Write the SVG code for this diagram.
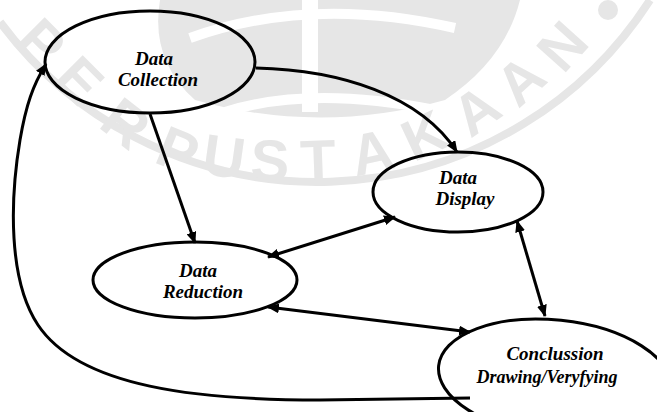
<svg xmlns="http://www.w3.org/2000/svg" width="657" height="412" viewBox="0 0 657 412">
<style>
.node{fill:none;stroke:#000;stroke-width:3}
.lbl{font-family:"Liberation Serif","Times New Roman",serif;font-style:italic;font-weight:bold;font-size:19px;fill:#000;text-anchor:middle}
.edge{fill:none;stroke:#000;stroke-width:3}
.wm{font-family:"Liberation Sans",Arial,sans-serif;font-weight:bold;font-size:58px;fill:#e6e6e6;text-anchor:middle;dominant-baseline:central}
</style>
<defs>
<marker id="ah" viewBox="0 0 12 10" refX="11" refY="5" markerWidth="12" markerHeight="10" markerUnits="userSpaceOnUse" orient="auto-start-reverse">
<path d="M0,0 L12,5 L0,10 Z" fill="#000"/>
</marker>
</defs>
<rect width="657" height="412" fill="#fff"/>
<g id="watermark">
<path d="M160,0 L520,0 Q505,60 445,100 Q320,135 195,100 Q150,60 160,0 Z" fill="#e6e6e6"/>
<path d="M190,38 Q310,-5 455,28" fill="none" stroke="#fff" stroke-width="10"/>
<path d="M225,112 Q310,85 435,110" fill="none" stroke="#fff" stroke-width="10"/>
<rect x="302" y="0" width="16" height="112" fill="#fff"/>
<path d="M0,22 A395,395 0 0 0 650,0" fill="none" stroke="#e6e6e6" stroke-width="8"/>
<text class="wm" transform="translate(42,42) rotate(45)">P</text>
<text class="wm" transform="translate(80,80) rotate(45)">E</text>
<text class="wm" transform="translate(126,123) rotate(38)">R</text>
<text class="wm" transform="translate(178,150) rotate(22)">P</text>
<text class="wm" transform="translate(224,156) rotate(8)">U</text>
<text class="wm" transform="translate(270,160) rotate(2)">S</text>
<text class="wm" transform="translate(318,160) rotate(-2)">T</text>
<text class="wm" transform="translate(372,152) rotate(-12)">A</text>
<text class="wm" transform="translate(424,135) rotate(-25)">K</text>
<text class="wm" transform="translate(476,110) rotate(-35)">A</text>
<text class="wm" transform="translate(520,80) rotate(-42)">A</text>
<text class="wm" transform="translate(562,46) rotate(-48)">N</text>
<circle cx="608" cy="10" r="10" fill="#e6e6e6"/>
</g>
<g id="connectors">
<path class="edge" d="M256,68 C340,70 420,95 457,152" marker-end="url(#ah)"/>
<path class="edge" d="M150,114 L195,243" marker-end="url(#ah)"/>
<path class="edge" d="M268,257 L395,217" marker-start="url(#ah)" marker-end="url(#ah)"/>
<path class="edge" d="M268,307 L470,332" marker-start="url(#ah)" marker-end="url(#ah)"/>
<path class="edge" d="M517,221 L545,316" marker-start="url(#ah)" marker-end="url(#ah)"/>
<path class="edge" d="M470,398 L320,400 C200,400 80,388 38,325 C8,280 10,200 20,140 C26,105 33,85 46,64" marker-end="url(#ah)"/>
</g>
<g id="data-collection">
<ellipse class="node" cx="150" cy="62" rx="105" ry="51"/>
<text class="lbl" x="154" y="65">Data</text>
<text class="lbl" x="158" y="86">Collection</text>
</g>
<g id="data-display">
<ellipse class="node" cx="458" cy="192" rx="85" ry="40"/>
<text class="lbl" x="458" y="184">Data</text>
<text class="lbl" x="465" y="205">Display</text>
</g>
<g id="data-reduction">
<ellipse class="node" cx="195" cy="280" rx="102" ry="38"/>
<text class="lbl" x="198" y="277">Data</text>
<text class="lbl" x="203" y="298">Reduction</text>
</g>
<g id="conclusion">
<ellipse class="node" cx="555" cy="378" rx="117" ry="58" transform="rotate(6 555 378)"/>
<text class="lbl" x="555" y="360">Conclussion</text>
<text class="lbl" x="547" y="383" style="font-size:18px">Drawing/Veryfying</text>
</g>
</svg>
